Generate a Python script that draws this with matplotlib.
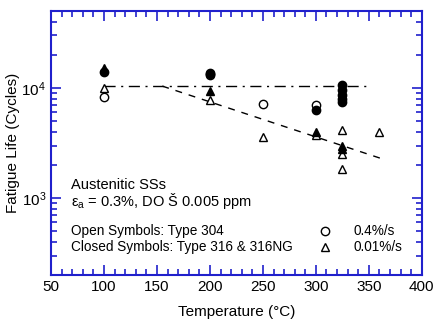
import numpy as np
import matplotlib
matplotlib.use('Agg')
import matplotlib.pyplot as plt
from matplotlib.ticker import LogLocator, MultipleLocator, NullFormatter

plt.rcParams['font.family'] = ['Liberation Sans', 'DejaVu Sans']
plt.rcParams['mathtext.fontset'] = 'custom'
plt.rcParams['mathtext.rm'] = 'Liberation Sans'
plt.rcParams['mathtext.it'] = 'Liberation Sans'

# open circles (Type 304, 0.4%/s)
oc_T = [100, 200, 250, 300]
oc_N = [8270, 13000, 7130, 7000]
# closed circles (Type 316 & 316NG, 0.4%/s)
cc_T = [100, 200, 200, 300, 325, 325, 325, 325, 325]
cc_N = [14000, 13700, 13400, 6370, 10700, 9650, 8680, 7980, 7440]
# open triangles (Type 304, 0.01%/s)
ot_T = [100, 200, 250, 300, 325, 325, 325, 360]
ot_N = [9900, 7700, 3550, 3760, 4150, 2500, 1820, 3950]
# closed triangles (Type 316 & 316NG, 0.01%/s)
ct_T = [100, 200, 300, 325, 325]
ct_N = [15200, 9400, 3950, 2940, 2780]

# trend lines
flat_T = [100, 350]
flat_N = [10430, 10430]
slope_T = [155, 365]
slope_N = [10400, 2230]

blue = '#2020cc'

fig = plt.figure(figsize=(4.34, 3.25), dpi=100)
ax = fig.add_axes([0.1175, 0.154, 0.8545, 0.812])

ax.plot(flat_T, flat_N, color='black', lw=1, linestyle=(0, (8, 4, 1.5, 4)))
ax.plot(slope_T, slope_N, color='black', lw=1, linestyle=(0, (5, 5)))

ms = 6
ax.plot(oc_T, oc_N, 'o', mfc='white', mec='black', ms=ms, mew=1, ls='none')
ax.plot(cc_T, cc_N, 'o', mfc='black', mec='black', ms=ms, mew=1, ls='none')
ax.plot(ot_T, ot_N, '^', mfc='white', mec='black', ms=ms, mew=1, ls='none')
ax.plot(ct_T, ct_N, '^', mfc='black', mec='black', ms=ms, mew=1, ls='none')

ax.set_yscale('log')
ax.set_xlim(50, 400)
ax.set_ylim(200, 50000)
ax.xaxis.set_major_locator(MultipleLocator(50))
ax.xaxis.set_minor_locator(MultipleLocator(10))
ax.yaxis.set_major_locator(LogLocator(base=10, numticks=10))
ax.yaxis.set_minor_locator(LogLocator(base=10, subs=np.arange(2, 10), numticks=20))
ax.yaxis.set_minor_formatter(NullFormatter())

for s in ax.spines.values():
    s.set_color(blue)
    s.set_linewidth(1.5)
ax.tick_params(which='both', direction='in', top=True, right=True, color=blue, labelsize=11)
ax.tick_params(which='major', length=7, width=1.2)
ax.tick_params(which='minor', length=4, width=1.2)

ax.set_xlabel('Temperature (°C)', fontsize=11, labelpad=8)
ax.set_ylabel('Fatigue Life (Cycles)', fontsize=11, labelpad=1)

fig.text(71 / 434, 1 - 189 / 325, 'Austenitic SSs', fontsize=10.5)
fig.text(71 / 434, 1 - 206 / 325, '$\\mathregular{ε_a}$ = 0.3%, DO Š 0.005 ppm', fontsize=10.5)
fig.text(71 / 434, 1 - 235 / 325, 'Open Symbols: Type 304', fontsize=9.8)
fig.text(71 / 434, 1 - 251 / 325, 'Closed Symbols: Type 316 & 316NG', fontsize=9.8)
fig.text(354 / 434, 1 - 235 / 325, '0.4%/s', fontsize=9.8)
fig.text(354 / 434, 1 - 251 / 325, '0.01%/s', fontsize=9.8)
fig.lines.append(plt.Line2D([325 / 434], [1 - 231 / 325], marker='o', mfc='white', mec='black',
                            ms=ms, mew=1, transform=fig.transFigure))
fig.lines.append(plt.Line2D([325 / 434], [1 - 247 / 325], marker='^', mfc='white', mec='black',
                            ms=ms, mew=1, transform=fig.transFigure))

fig.savefig('out.png', dpi=100)
